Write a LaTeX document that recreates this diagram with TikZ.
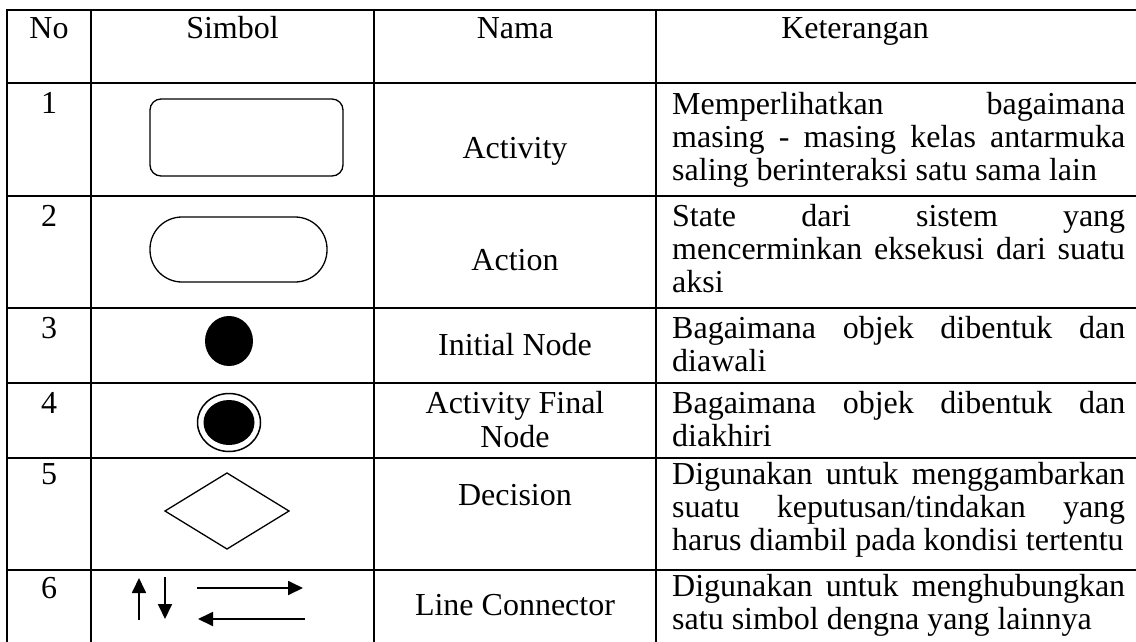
\documentclass[tikz,border=0pt]{standalone}
\usepackage{fontspec}
\setmainfont{Liberation Serif}
\usetikzlibrary{arrows.meta}
\begin{document}
\begin{tikzpicture}[x=1pt,y=-1pt,
  gridline/.style={line width=1.8pt, line cap=rect},
  txt/.style={inner sep=0pt, anchor=base, font=\fontsize{32}{37}\selectfont},
  ket/.style={inner sep=0pt, anchor=base west, font=\fontsize{32}{37}\selectfont},
  sym/.style={line width=1.3pt},
  arr/.style={line width=1.8pt, -{Triangle[length=15pt,width=14pt]}}]
\useasboundingbox (0,0) rectangle (1136,641);
\newcommand{\jl}[1]{\makebox[453pt][s]{#1}}
% grid
\foreach \yy in {10,83,196,308,383,458,570} \draw[gridline] (7,\yy) -- (1140,\yy);
\foreach \xx in {7,91,374,656} \draw[gridline] (\xx,10) -- (\xx,645);
% header
\node[txt] (hno) at (49,38) {No};
\node[txt] (hsim) at (232.5,38) {Simbol};
\node[txt] (hnama) at (515,38) {Nama};
\node[txt] (hket) at (855,38) {Keterangan};
% numbers
\node[txt] (n1) at (49,113) {1};
\node[txt] (n2) at (49,226) {2};
\node[txt] (n3) at (49,338) {3};
\node[txt] (n4) at (49,413) {4};
\node[txt] (n5) at (49,484) {5};
\node[txt] (n6) at (49,598) {6};
% names
\node[txt] (m1) at (515,158) {Activity};
\node[txt] (m2) at (515,270) {Action};
\node[txt] (m3) at (515,355) {Initial Node};
\node[txt] (m4a) at (515,413) {Activity Final};
\node[txt] (m4b) at (515,447) {Node};
\node[txt] (m5) at (515,505) {Decision};
\node[txt] (m6) at (515,615) {Line Connector};
% keterangan
\node[ket] (k1a) at (672,114) {\jl{Memperlihatkan bagaimana}};
\node[ket] (k1b) at (672,147) {\jl{masing - masing kelas antarmuka}};
\node[ket] (k1c) at (672,180) {saling berinteraksi satu sama lain};
\node[ket] (k2a) at (672,226) {\jl{State dari sistem yang}};
\node[ket] (k2b) at (672,259) {\jl{mencerminkan eksekusi dari suatu}};
\node[ket] (k2c) at (672,292) {aksi};
\node[ket] (k3a) at (672,338) {\jl{Bagaimana objek dibentuk dan}};
\node[ket] (k3b) at (672,371) {diawali};
\node[ket] (k4a) at (672,413) {\jl{Bagaimana objek dibentuk dan}};
\node[ket] (k4b) at (672,446) {diakhiri};
\node[ket] (k5a) at (672,484) {\jl{Digunakan untuk menggambarkan}};
\node[ket] (k5b) at (672,517) {\jl{suatu keputusan/tindakan yang}};
\node[ket] (k5c) at (672,550) {harus diambil pada kondisi tertentu};
\node[ket] (k6a) at (672,596) {\jl{Digunakan untuk menghubungkan}};
\node[ket] (k6b) at (672,629) {satu simbol dengna yang lainnya};
% symbols
\draw[sym, rounded corners=11pt] (150,99) rectangle (343,176);
\draw[sym, rounded corners=32pt] (150,217) rectangle (327,282);
\fill (229,341) ellipse [x radius=24, y radius=25];
\draw[line width=1.5pt] (229,422.5) ellipse [x radius=31.5, y radius=29];
\fill (229,422.5) ellipse [x radius=25.5, y radius=22.5];
\draw[sym, line join=miter] (165,511) -- (227,473) -- (289,511) -- (227,549) -- cycle;
% arrows
\coordinate (u1) at (139,620); \coordinate (u2) at (139,578);
\coordinate (d1) at (165,577); \coordinate (d2) at (165,619);
\coordinate (r1) at (197,588); \coordinate (r2) at (303,588);
\coordinate (l1) at (305,619); \coordinate (l2) at (198,619);
\draw[arr] (u1) -- (u2);
\draw[arr] (d1) -- (d2);
\draw[arr] (r1) -- (r2);
\draw[arr] (l1) -- (l2);
\end{tikzpicture}
\end{document}
